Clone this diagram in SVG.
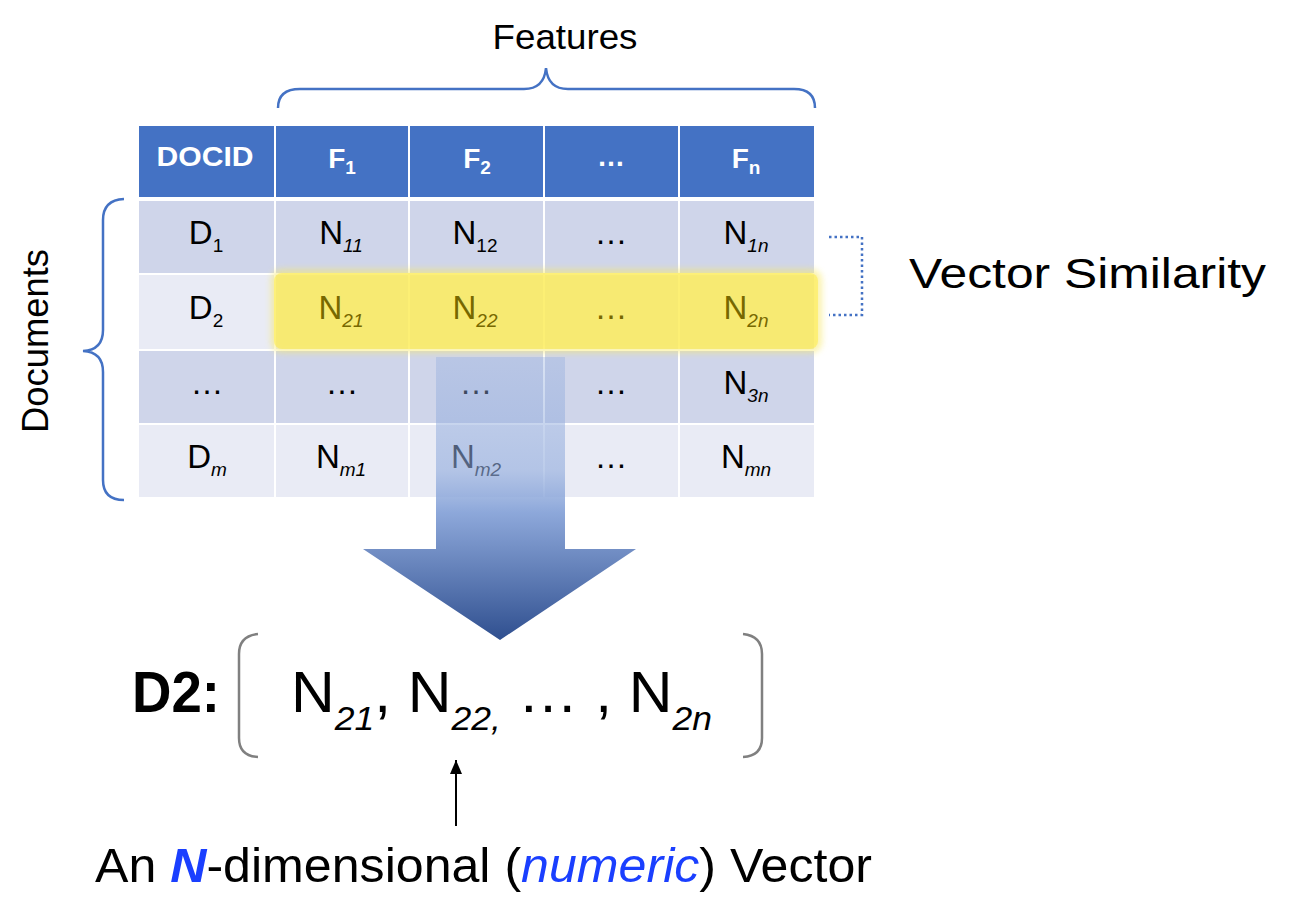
<svg xmlns="http://www.w3.org/2000/svg" width="1300" height="922" viewBox="0 0 1300 922">
<style>
.hd{fill:#4472C4}
.r1{fill:#CFD5EA}
.r2{fill:#E9EBF5}
.ct{font-family:"Liberation Sans",Arial,sans-serif;font-size:33px;fill:#000;text-anchor:middle}
.ht{font-family:"Liberation Sans",Arial,sans-serif;font-size:28px;font-weight:bold;fill:#fff;text-anchor:middle}
.hl{fill:#776800}
.sub{font-size:19px}
.hsub{font-size:19px}
.it{font-style:italic}
.lbl{font-family:"Liberation Sans",Arial,sans-serif;fill:#000}
.brace{fill:none;stroke:#4472C4;stroke-width:2.5}
</style>
<defs>
<linearGradient id="ag" x1="0" y1="357" x2="0" y2="640" gradientUnits="userSpaceOnUse">
<stop offset="0" stop-color="#8FAADC" stop-opacity="0.35"/>
<stop offset="0.4" stop-color="#8FAADC" stop-opacity="0.6"/>
<stop offset="0.55" stop-color="#87A3D8" stop-opacity="0.95"/>
<stop offset="1" stop-color="#2F4F8F"/>
</linearGradient>
<filter id="glow" x="-10%" y="-30%" width="120%" height="160%">
<feGaussianBlur stdDeviation="3"/>
</filter>
<marker id="ah" markerWidth="14" markerHeight="12" refX="14" refY="6" orient="auto" markerUnits="userSpaceOnUse">
<path d="M0,0 L14,6 L0,12 Z" fill="#000"/>
</marker>
</defs>
<rect width="1300" height="922" fill="#fff"/>

<g id="features-label">
<text class="lbl" x="565" y="49" font-size="35" text-anchor="middle" textLength="145" lengthAdjust="spacingAndGlyphs">Features</text>
<path class="brace" d="M278,108 Q278,89 300,89 L524,89 Q544,89 546,68 Q548,89 568,89 L794,89 Q815,89 815,108"/>
</g>

<g id="documents-label">
<text class="lbl" x="0" y="0" font-size="37" text-anchor="middle" textLength="184" lengthAdjust="spacingAndGlyphs" transform="translate(48,341) rotate(-90)">Documents</text>
<path class="brace" d="M124,199 Q103,200 103,220 L103,330 Q103,350 83,351 Q103,352 103,372 L103,480 Q103,500 124,500"/>
</g>

<g id="table">
<rect class="hd" x="139" y="126" width="135" height="71"/>
<rect class="hd" x="276" y="126" width="132" height="71"/>
<rect class="hd" x="410" y="126" width="133" height="71"/>
<rect class="hd" x="545" y="126" width="133" height="71"/>
<rect class="hd" x="680" y="126" width="134" height="71"/>

<rect class="r1" x="139" y="201" width="135" height="72"/>
<rect class="r1" x="276" y="201" width="132" height="72"/>
<rect class="r1" x="410" y="201" width="133" height="72"/>
<rect class="r1" x="545" y="201" width="133" height="72"/>
<rect class="r1" x="680" y="201" width="134" height="72"/>

<rect class="r2" x="139" y="275" width="135" height="74"/>
<rect class="r2" x="276" y="275" width="132" height="74"/>
<rect class="r2" x="410" y="275" width="133" height="74"/>
<rect class="r2" x="545" y="275" width="133" height="74"/>
<rect class="r2" x="680" y="275" width="134" height="74"/>

<rect class="r1" x="139" y="351" width="135" height="72"/>
<rect class="r1" x="276" y="351" width="132" height="72"/>
<rect class="r1" x="410" y="351" width="133" height="72"/>
<rect class="r1" x="545" y="351" width="133" height="72"/>
<rect class="r1" x="680" y="351" width="134" height="72"/>

<rect class="r2" x="139" y="425" width="135" height="72"/>
<rect class="r2" x="276" y="425" width="132" height="72"/>
<rect class="r2" x="410" y="425" width="133" height="72"/>
<rect class="r2" x="545" y="425" width="133" height="72"/>
<rect class="r2" x="680" y="425" width="134" height="72"/>
</g>

<g id="highlight">
<rect x="271" y="269" width="551" height="84" rx="11" fill="#F7E96A" opacity="0.55" filter="url(#glow)"/>
<rect x="274" y="273" width="544" height="76" rx="8" fill="#FFEA30" opacity="0.45"/>
</g>

<g id="table-text">
<text class="ht" x="205" y="166" textLength="97" lengthAdjust="spacingAndGlyphs">DOCID</text>
<text class="ht" x="342" y="168">F<tspan class="hsub" dy="6">1</tspan></text>
<text class="ht" x="477" y="168">F<tspan class="hsub" dy="6">2</tspan></text>
<text class="ht" x="611" y="166">…</text>
<text class="ht" x="746" y="168">F<tspan class="hsub" dy="6">n</tspan></text>

<text class="ct" x="206" y="244">D<tspan class="sub" dy="8">1</tspan></text>
<text class="ct" x="341" y="244">N<tspan class="sub it" dy="8">11</tspan></text>
<text class="ct" x="475" y="244">N<tspan class="sub" dy="8">12</tspan></text>
<text class="ct" x="611" y="244">…</text>
<text class="ct" x="746" y="244">N<tspan class="sub it" dy="8">1n</tspan></text>

<text class="ct" x="206" y="319">D<tspan class="sub" dy="8">2</tspan></text>
<text class="ct hl" x="341" y="319">N<tspan class="sub it" dy="8">21</tspan></text>
<text class="ct hl" x="475" y="319">N<tspan class="sub it" dy="8">22</tspan></text>
<text class="ct hl" x="611" y="319">…</text>
<text class="ct hl" x="746" y="319">N<tspan class="sub it" dy="8">2n</tspan></text>

<text class="ct" x="207" y="394">…</text>
<text class="ct" x="342" y="394">…</text>
<text class="ct" x="476" y="394">…</text>
<text class="ct" x="611" y="394">…</text>
<text class="ct" x="746" y="394">N<tspan class="sub it" dy="8">3n</tspan></text>

<text class="ct" x="207" y="468">D<tspan class="sub it" dy="8">m</tspan></text>
<text class="ct" x="341" y="468">N<tspan class="sub it" dy="8">m1</tspan></text>
<text class="ct" x="476" y="468">N<tspan class="sub it" dy="8">m2</tspan></text>
<text class="ct" x="611" y="468">…</text>
<text class="ct" x="746" y="468">N<tspan class="sub it" dy="8">mn</tspan></text>
</g>

<g id="big-arrow">
<path d="M436,357 L565,357 L565,549 L636,549 L500,640 L363,549 L436,549 Z" fill="url(#ag)"/>
</g>

<g id="connectors">
<path d="M829,237 L862,237 L862,315 L829,315" fill="none" stroke="#4472C4" stroke-width="2.5" stroke-dasharray="2.5,3"/>
<line x1="456" y1="826" x2="456" y2="760" stroke="#000" stroke-width="2" marker-end="url(#ah)"/>
</g>

<g id="vector-similarity">
<text class="lbl" x="909" y="288" font-size="43" textLength="357" lengthAdjust="spacingAndGlyphs">Vector Similarity</text>
</g>

<g id="d2-vector">
<text class="lbl" x="132" y="712" font-size="58" font-weight="bold" textLength="88" lengthAdjust="spacingAndGlyphs">D2:</text>
<path d="M258,634 Q239,636 239,654 L239,738 Q239,756 258,757" fill="none" stroke="#808080" stroke-width="2.5"/>
<path d="M743,634 Q762,636 762,654 L762,738 Q762,756 743,757" fill="none" stroke="#808080" stroke-width="2.5"/>
<text class="lbl" x="291" y="712" font-size="58" textLength="421" lengthAdjust="spacingAndGlyphs">N<tspan font-size="34" font-style="italic" dy="18">21</tspan><tspan dy="-18">, N</tspan><tspan font-size="34" font-style="italic" dy="18">22,</tspan><tspan dy="-18"> … , N</tspan><tspan font-size="34" font-style="italic" dy="18">2n</tspan></text>
</g>

<g id="bottom-label">
<text class="lbl" x="95" y="882" font-size="48" textLength="777" lengthAdjust="spacingAndGlyphs">An <tspan fill="#1A3FFF" font-weight="bold" font-style="italic">N</tspan>-dimensional (<tspan fill="#1A3FFF" font-style="italic">numeric</tspan>) Vector</text>
</g>
</svg>
